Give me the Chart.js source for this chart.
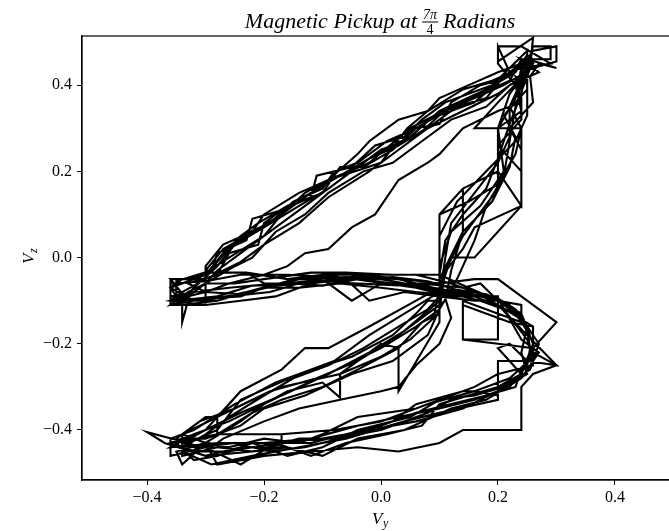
<!DOCTYPE html>
<html>
<head>
<meta charset="utf-8">
<script src="https://cdn.jsdelivr.net/npm/chart.js@4.4.0/dist/chart.umd.min.js"></script>
<style>
  html, body { margin: 0; padding: 0; background: #fff; overflow: hidden; }
  #wrap { width: 700px; height: 531px; }
</style>
</head>
<body>
<div id="wrap"><canvas id="myChart" width="700" height="531"></canvas></div>
<script>
// pickup trace, one array per revolution, pairs are [Vy, Vz]
const loop1 = [[0.25,0.47],[0.24,0.42],[0.2,0.38],[0.14,0.34],[0.08,0.3],[0.04,0.26],[-0.02,0.2],[-0.09,0.14],[-0.14,0.08],[-0.2,0.03],[-0.24,-0.01],[-0.3,-0.05],[-0.34,-0.08],[-0.36,-0.1],[-0.36,-0.06],[-0.3,-0.055],[-0.24,-0.04],[-0.16,-0.04],[-0.08,-0.045],[0.0,-0.05],[0.08,-0.07],[0.14,-0.08],[0.2,-0.1],[0.24,-0.13],[0.26,-0.2],[0.24,-0.27],[0.2,-0.31],[0.14,-0.35],[0.06,-0.38],[-0.02,-0.4],[-0.1,-0.42],[-0.18,-0.43],[-0.26,-0.45],[-0.32,-0.45],[-0.36,-0.43],[-0.3,-0.4],[-0.24,-0.36],[-0.17,-0.32],[-0.09,-0.27],[-0.02,-0.22],[0.04,-0.17],[0.1,-0.1],[0.1,-0.04],[0.11,0.04],[0.14,0.1],[0.18,0.16],[0.2,0.23],[0.22,0.31],[0.24,0.38],[0.25,0.44]];
const loop2 = [[0.26,0.49],[0.29,0.49],[0.29,0.46],[0.24,0.46],[0.22,0.41],[0.17,0.38],[0.12,0.35],[0.05,0.3],[-0.02,0.22],[-0.09,0.18],[-0.13,0.15],[-0.17,0.1],[-0.23,0.05],[-0.27,0.02],[-0.3,-0.03],[-0.3,-0.11],[-0.36,-0.11],[-0.36,-0.05],[-0.3,-0.05],[-0.3,-0.035],[-0.23,-0.035],[-0.16,-0.05],[-0.1,-0.04],[-0.04,-0.04],[0.04,-0.05],[0.1,-0.06],[0.16,-0.05],[0.2,-0.05],[0.3,-0.15],[0.26,-0.21],[0.24,-0.27],[0.2,-0.3],[0.2,-0.33],[0.1,-0.36],[0.04,-0.38],[-0.06,-0.42],[-0.14,-0.44],[-0.22,-0.46],[-0.29,-0.48],[-0.34,-0.45],[-0.34,-0.41],[-0.28,-0.37],[-0.24,-0.31],[-0.17,-0.26],[-0.13,-0.21],[-0.09,-0.21],[-0.02,-0.16],[0.06,-0.1],[0.1,-0.07],[0.1,0.0],[0.1,0.1],[0.14,0.16],[0.2,0.2],[0.2,0.3],[0.24,0.34],[0.23,0.4],[0.2,0.45],[0.2,0.49]];
const loop3 = [[0.24,0.49],[0.29,0.45],[0.24,0.44],[0.19,0.41],[0.14,0.39],[0.08,0.34],[0.045,0.3],[0.0,0.22],[-0.09,0.18],[-0.17,0.1],[-0.2,0.05],[-0.26,0.0],[-0.3,-0.035],[-0.3,-0.05],[-0.36,-0.05],[-0.33,-0.1],[-0.34,-0.15],[-0.34,-0.095],[-0.3,-0.1],[-0.23,-0.08],[-0.16,-0.055],[-0.1,-0.04],[-0.02,-0.055],[0.06,-0.07],[0.12,-0.09],[0.2,-0.09],[0.2,-0.11],[0.26,-0.16],[0.26,-0.22],[0.3,-0.25],[0.26,-0.27],[0.24,-0.3],[0.24,-0.4],[0.14,-0.4],[0.1,-0.43],[0.03,-0.45],[-0.04,-0.44],[-0.12,-0.45],[-0.2,-0.46],[-0.28,-0.48],[-0.3,-0.43],[-0.34,-0.41],[-0.3,-0.37],[-0.28,-0.37],[-0.22,-0.33],[-0.17,-0.3],[-0.07,-0.27],[0.0,-0.2],[0.03,-0.21],[0.03,-0.31],[0.1,-0.15],[0.1,-0.05],[0.14,0.06],[0.14,0.16],[0.2,0.2],[0.24,0.12],[0.24,0.3],[0.2,0.3],[0.16,0.3],[0.2,0.36],[0.25,0.43]];
const loop4 = [[0.255,0.44],[0.26,0.51],[0.2,0.455],[0.2,0.49],[0.22,0.43],[0.16,0.36],[0.1,0.33],[0.06,0.28],[0.0,0.25],[-0.05,0.2],[-0.09,0.16],[-0.14,0.12],[-0.2,0.07],[-0.25,0.03],[-0.28,-0.02],[-0.32,-0.07],[-0.34,-0.1],[-0.3,-0.1],[-0.3,-0.06],[-0.25,-0.06],[-0.2,-0.05],[-0.12,-0.035],[-0.06,-0.035],[0.02,-0.04],[0.1,-0.04],[0.2,-0.1],[0.24,-0.11],[0.24,-0.15],[0.14,-0.1],[0.14,-0.19],[0.2,-0.2],[0.26,-0.21],[0.26,-0.25],[0.2,-0.27],[0.2,-0.32],[0.16,-0.31],[0.08,-0.34],[0.0,-0.38],[-0.08,-0.4],[-0.17,-0.41],[-0.17,-0.44],[-0.24,-0.44],[-0.3,-0.46],[-0.37,-0.43],[-0.4,-0.405],[-0.33,-0.43],[-0.28,-0.4],[-0.24,-0.33],[-0.14,-0.27],[-0.08,-0.24],[-0.02,-0.18],[0.04,-0.13],[0.1,-0.08],[0.12,0.0],[0.16,0.0],[0.24,0.12],[0.24,0.25],[0.22,0.3],[0.26,0.36],[0.255,0.42]];
const loop5 = [[0.27,0.45],[0.3,0.44],[0.25,0.46],[0.21,0.42],[0.18,0.37],[0.13,0.35],[0.09,0.31],[0.03,0.26],[-0.02,0.23],[-0.07,0.19],[-0.12,0.15],[-0.16,0.12],[-0.21,0.08],[-0.24,0.05],[-0.27,0.01],[-0.3,-0.04],[-0.36,-0.07],[-0.34,-0.11],[-0.28,-0.1],[-0.2,-0.07],[-0.14,-0.05],[-0.06,-0.045],[0.02,-0.06],[0.09,-0.075],[0.16,-0.09],[0.23,-0.13],[0.25,-0.17],[0.255,-0.21],[0.25,-0.25],[0.22,-0.3],[0.16,-0.33],[0.1,-0.35],[0.03,-0.37],[-0.04,-0.39],[-0.12,-0.42],[-0.2,-0.43],[-0.28,-0.43],[-0.36,-0.44],[-0.32,-0.41],[-0.26,-0.38],[-0.2,-0.34],[-0.14,-0.3],[-0.06,-0.25],[0.0,-0.21],[0.06,-0.16],[0.1,-0.12],[0.13,-0.05],[0.16,0.04],[0.18,0.12],[0.21,0.19],[0.22,0.27],[0.23,0.35],[0.25,0.42],[0.26,0.46]];
const loop6 = [[0.25,0.47],[0.23,0.43],[0.18,0.39],[0.1,0.34],[0.05,0.28],[-0.01,0.24],[-0.06,0.19],[-0.12,0.13],[-0.18,0.07],[-0.23,0.02],[-0.28,-0.03],[-0.3,-0.06],[-0.33,-0.09],[-0.36,-0.09],[-0.32,-0.08],[-0.26,-0.07],[-0.18,-0.06],[-0.1,-0.055],[-0.04,-0.06],[0.04,-0.065],[0.1,-0.08],[0.17,-0.09],[0.2,-0.095],[0.24,-0.19],[0.27,-0.22],[0.24,-0.28],[0.18,-0.33],[0.12,-0.35],[0.04,-0.4],[-0.04,-0.42],[-0.1,-0.46],[-0.16,-0.44],[-0.22,-0.45],[-0.28,-0.44],[-0.34,-0.46],[-0.34,-0.42],[-0.3,-0.42],[-0.24,-0.39],[-0.2,-0.35],[-0.13,-0.32],[-0.05,-0.27],[0.02,-0.24],[0.08,-0.18],[0.1,-0.12],[0.11,-0.03],[0.14,0.05],[0.2,0.16],[0.2,0.26],[0.24,0.32],[0.24,0.4],[0.26,0.45],[0.25,0.47]];
const loop7 = [[0.24,0.45],[0.2,0.43],[0.15,0.4],[0.1,0.37],[0.08,0.34],[0.03,0.32],[-0.02,0.27],[-0.04,0.24],[-0.09,0.18],[-0.14,0.15],[-0.2,0.1],[-0.22,0.06],[-0.27,0.03],[-0.3,-0.02],[-0.3,-0.035],[-0.23,-0.035],[-0.2,-0.06],[-0.16,-0.06],[-0.1,-0.05],[-0.05,-0.1],[0.0,-0.06],[0.07,-0.06],[0.14,-0.07],[0.17,-0.06],[0.2,-0.1],[0.2,-0.19],[0.14,-0.19],[0.14,-0.11],[0.22,-0.15],[0.26,-0.16],[0.26,-0.24],[0.2,-0.24],[0.2,-0.27],[0.16,-0.3],[0.1,-0.33],[0.06,-0.35],[-0.04,-0.37],[-0.1,-0.41],[-0.14,-0.43],[-0.2,-0.42],[-0.26,-0.44],[-0.3,-0.43],[-0.35,-0.45],[-0.34,-0.48],[-0.3,-0.43],[-0.24,-0.38],[-0.2,-0.34],[-0.16,-0.31],[-0.1,-0.29],[-0.07,-0.325],[-0.07,-0.27],[0.0,-0.23],[0.05,-0.19],[0.09,-0.14],[0.1,-0.07],[0.1,0.02],[0.1,0.1],[0.15,0.13],[0.2,0.17],[0.23,0.24],[0.24,0.3],[0.22,0.35],[0.24,0.41]];
const loop8 = [[0.23,0.42],[0.24,0.36],[0.2,0.34],[0.14,0.3],[0.1,0.24],[0.08,0.22],[0.03,0.18],[-0.01,0.1],[-0.05,0.07],[-0.09,0.02],[-0.13,0.01],[-0.16,-0.02],[-0.2,-0.04],[-0.26,-0.06],[-0.3,-0.08],[-0.36,-0.1],[-0.3,-0.11],[-0.24,-0.1],[-0.18,-0.09],[-0.12,-0.06],[-0.06,-0.05],[-0.02,-0.1],[0.04,-0.08],[0.1,-0.09],[0.16,-0.1],[0.2,-0.1],[0.24,-0.14],[0.26,-0.18],[0.26,-0.22],[0.24,-0.26],[0.23,-0.3],[0.18,-0.32],[0.12,-0.34],[0.06,-0.36],[0.0,-0.39],[-0.06,-0.41],[-0.12,-0.43],[-0.17,-0.43],[-0.17,-0.41],[-0.28,-0.41],[-0.28,-0.37],[-0.3,-0.4],[-0.34,-0.43],[-0.3,-0.45],[-0.27,-0.42],[-0.2,-0.38],[-0.14,-0.35],[-0.07,-0.33],[0.0,-0.31],[0.03,-0.3],[0.06,-0.25],[0.1,-0.2],[0.12,-0.14],[0.1,-0.05],[0.14,0.02],[0.16,0.07],[0.24,0.12],[0.24,0.2],[0.2,0.26],[0.2,0.3],[0.23,0.37],[0.24,0.44]];
const loop9 = [[0.26,0.48],[0.3,0.49],[0.3,0.455],[0.26,0.44],[0.21,0.4],[0.16,0.37],[0.11,0.34],[0.06,0.3],[0.01,0.27],[-0.04,0.22],[-0.08,0.2],[-0.1,0.16],[-0.15,0.13],[-0.19,0.08],[-0.24,0.05],[-0.26,0.02],[-0.3,-0.04],[-0.34,-0.05],[-0.36,-0.07],[-0.32,-0.1],[-0.26,-0.09],[-0.19,-0.08],[-0.14,-0.06],[-0.08,-0.05],[-0.02,-0.04],[0.06,-0.04],[0.12,-0.06],[0.16,-0.08],[0.2,-0.11],[0.3,-0.25],[0.25,-0.24],[0.22,-0.2],[0.2,-0.21],[0.24,-0.27],[0.2,-0.3],[0.15,-0.32],[0.1,-0.34],[0.07,-0.39],[0.01,-0.41],[-0.06,-0.43],[-0.12,-0.46],[-0.18,-0.43],[-0.24,-0.48],[-0.3,-0.44],[-0.36,-0.46],[-0.36,-0.42],[-0.32,-0.4],[-0.25,-0.34],[-0.18,-0.29],[-0.12,-0.26],[-0.05,-0.23],[0.02,-0.18],[0.06,-0.13],[0.08,-0.1],[0.1,-0.1],[0.1,-0.02],[0.12,0.06],[0.17,0.12],[0.21,0.2],[0.2,0.3],[0.22,0.38],[0.26,0.45]];
const loop10 = [[0.24,0.46],[0.27,0.43],[0.22,0.4],[0.18,0.35],[0.12,0.32],[0.06,0.26],[0.02,0.22],[-0.03,0.2],[-0.09,0.15],[-0.13,0.1],[-0.18,0.06],[-0.22,0.0],[-0.25,-0.02],[-0.3,-0.06],[-0.33,-0.08],[-0.36,-0.11],[-0.3,-0.095],[-0.24,-0.09],[-0.2,-0.07],[-0.14,-0.07],[-0.07,-0.06],[0.0,-0.07],[0.06,-0.08],[0.14,-0.09],[0.17,-0.1],[0.21,-0.12],[0.25,-0.19],[0.26,-0.23],[0.22,-0.28],[0.16,-0.31],[0.14,-0.31],[0.06,-0.34],[0.02,-0.38],[-0.04,-0.4],[-0.1,-0.44],[-0.16,-0.46],[-0.22,-0.43],[-0.28,-0.46],[-0.32,-0.47],[-0.35,-0.43],[-0.28,-0.41],[-0.22,-0.36],[-0.17,-0.33],[-0.1,-0.3],[-0.04,-0.26],[0.03,-0.21],[0.07,-0.15],[0.1,-0.13],[0.1,-0.06],[0.1,0.05],[0.13,0.13],[0.18,0.2],[0.23,0.27],[0.25,0.33],[0.25,0.4],[0.24,0.45]];
const loop11 = [[0.25,0.45],[0.2,0.41],[0.17,0.4],[0.12,0.36],[0.1,0.31],[0.06,0.3],[0.02,0.25],[-0.03,0.21],[-0.07,0.21],[-0.1,0.15],[-0.16,0.12],[-0.2,0.08],[-0.21,0.03],[-0.26,0.01],[-0.28,-0.04],[-0.33,-0.06],[-0.3,-0.08],[-0.24,-0.085],[-0.18,-0.065],[-0.13,-0.06],[-0.08,-0.055],[-0.03,-0.045],[0.03,-0.05],[0.09,-0.07],[0.15,-0.085],[0.2,-0.095],[0.23,-0.12],[0.27,-0.2],[0.255,-0.26],[0.22,-0.29],[0.18,-0.31],[0.12,-0.33],[0.08,-0.36],[0.0,-0.4],[-0.08,-0.42],[-0.14,-0.42],[-0.22,-0.45],[-0.3,-0.46],[-0.34,-0.44],[-0.3,-0.41],[-0.26,-0.37],[-0.2,-0.32],[-0.15,-0.28],[-0.09,-0.25],[-0.03,-0.21],[0.03,-0.16],[0.08,-0.12],[0.1,-0.09],[0.11,0.0],[0.12,0.08],[0.16,0.15],[0.2,0.22],[0.22,0.28],[0.22,0.34],[0.24,0.4],[0.25,0.45]];
const loop12 = [[0.25,0.48],[0.22,0.44],[0.19,0.4],[0.15,0.38],[0.11,0.36],[0.07,0.32],[0.04,0.28],[-0.01,0.26],[-0.05,0.21],[-0.11,0.19],[-0.12,0.14],[-0.17,0.11],[-0.22,0.09],[-0.23,0.04],[-0.28,0.01],[-0.29,-0.03],[-0.35,-0.055],[-0.35,-0.1],[-0.28,-0.09],[-0.22,-0.065],[-0.15,-0.06],[-0.1,-0.065],[-0.04,-0.05],[0.02,-0.045],[0.08,-0.055],[0.13,-0.075],[0.18,-0.085],[0.22,-0.11],[0.25,-0.16],[0.24,-0.22],[0.25,-0.27],[0.21,-0.3],[0.16,-0.32],[0.1,-0.33],[0.05,-0.37],[-0.01,-0.39],[-0.07,-0.42],[-0.13,-0.44],[-0.19,-0.45],[-0.25,-0.43],[-0.31,-0.44],[-0.35,-0.42],[-0.31,-0.38],[-0.25,-0.35],[-0.19,-0.31],[-0.11,-0.28],[-0.04,-0.24],[0.02,-0.19],[0.07,-0.14],[0.11,-0.1],[0.12,-0.03],[0.14,0.06],[0.19,0.13],[0.22,0.21],[0.23,0.28],[0.21,0.33],[0.25,0.39],[0.25,0.48]];

const xTicks = [-0.4, -0.2, 0.0, 0.2, 0.4];
const yTicks = [-0.4, -0.2, 0.0, 0.2, 0.4];

const loops = [loop1, loop2, loop3, loop4, loop5, loop6, loop7, loop8, loop9, loop10, loop11, loop12];
const trace = loops.flat().map(p => ({x: p[0], y: p[1]}));

function fmt(v){
    if (Math.abs(v) < 1e-9) return '0.0';
    return (v < 0 ? '\u2212' : '') + Math.abs(v).toFixed(1);
}

const serif = "'Liberation Serif', 'DejaVu Serif', serif";

// title and axis names are drawn by hand, they need a fraction and subscripts
const textPlugin = {
    id: 'texts',
    afterDraw(chart){
        const ctx = chart.ctx;
        const a = chart.chartArea;
        ctx.save();
        ctx.fillStyle = '#000';
        ctx.strokeStyle = '#000';
        ctx.lineWidth = 1.2;
        ctx.strokeRect(a.left, a.top, a.right - a.left, a.bottom - a.top);

        // title
        const t1 = 'Magnetic Pickup at', t2 = 'Radians';
        ctx.font = 'italic 22px ' + serif;
        const w1 = ctx.measureText(t1).width, w2 = ctx.measureText(t2).width;
        ctx.font = 'italic 14px ' + serif;
        const wn = ctx.measureText('7\u03c0').width;
        const gap = 6;
        const total = w1 + gap + wn + gap + w2;
        let x = 380 - total / 2;
        ctx.textBaseline = 'alphabetic';
        ctx.textAlign = 'left';
        ctx.font = 'italic 22px ' + serif;
        ctx.fillText(t1, x, 28);
        x += w1 + gap;
        ctx.font = 'italic 14px ' + serif;
        ctx.fillText('7\u03c0', x, 19);
        ctx.fillRect(x - 1, 21.5, wn + 2, 1);
        ctx.font = '14px ' + serif;
        ctx.textAlign = 'center';
        ctx.fillText('4', x + wn / 2, 34);
        x += wn + gap;
        ctx.textAlign = 'left';
        ctx.font = 'italic 22px ' + serif;
        ctx.fillText(t2, x, 28);

        // x axis name
        ctx.font = 'italic 17px ' + serif;
        ctx.fillText('V', 372, 524);
        ctx.font = 'italic 12px ' + serif;
        ctx.fillText('y', 383, 527);

        // y axis name
        ctx.translate(34, 257);
        ctx.rotate(-Math.PI / 2);
        ctx.font = 'italic 17px ' + serif;
        ctx.fillText('V', -7, 0);
        ctx.font = 'italic 12px ' + serif;
        ctx.fillText('z', 4, 3);
        ctx.restore();
    }
};

const ctx = document.getElementById('myChart');
new Chart(ctx, {
    type: 'scatter',
    data: {
        datasets: [{
            data: trace,
            showLine: true,
            borderColor: '#000',
            borderWidth: 2.1,
            pointRadius: 0,
            tension: 0,
            fill: false
        }]
    },
    options: {
        responsive: false,
        animation: false,
        events: [],
        layout: { padding: { top: 36, right: 20, left: 0, bottom: 0 } },
        plugins: { legend: { display: false }, tooltip: { enabled: false }, title: { display: false } },
        scales: {
            x: {
                type: 'linear',
                min: -0.5113,
                max: 0.5113,
                afterFit: s => { s.height = 51; },
                afterBuildTicks: s => { s.ticks = xTicks.map(v => ({value: v})); },
                grid: { drawOnChartArea: false, tickLength: 5, color: '#000', tickWidth: 1 },
                border: { display: true, color: '#000', width: 1.2 },
                ticks: { color: '#000', padding: 3, maxRotation: 0, font: { family: serif, size: 16 }, callback: v => fmt(v) }
            },
            y: {
                type: 'linear',
                min: -0.516,
                max: 0.514,
                afterFit: s => { s.width = 82; },
                afterBuildTicks: s => { s.ticks = yTicks.map(v => ({value: v})); },
                grid: { drawOnChartArea: false, tickLength: 5, color: '#000', tickWidth: 1 },
                border: { display: true, color: '#000', width: 1.2 },
                ticks: { color: '#000', padding: 5, font: { family: serif, size: 16 }, callback: v => fmt(v) }
            }
        }
    },
    plugins: [textPlugin]
});
</script>
</body>
</html>
